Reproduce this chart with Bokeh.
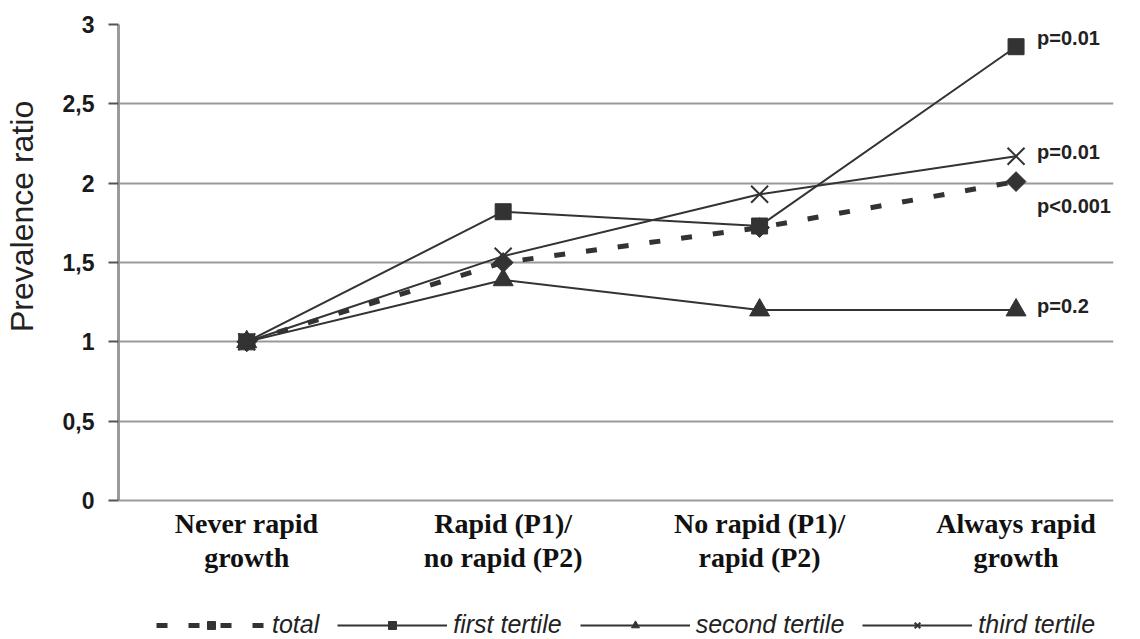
import math
from bokeh.plotting import figure
from bokeh.models import Legend, LegendItem, FixedTicker, Range1d
from bokeh.core.properties import value
from bokeh.embed import file_html
from bokeh.resources import INLINE

# ---- data ----
categories = ["Never rapid\ngrowth", "Rapid (P1)/\nno rapid (P2)",
              "No rapid (P1)/\nrapid (P2)", "Always rapid\ngrowth"]
x_pos = [0, 1, 2, 3]
total = [1.0, 1.50, 1.72, 2.01]
first_tertile = [1.0, 1.82, 1.73, 2.86]
second_tertile = [1.0, 1.39, 1.20, 1.20]
third_tertile = [1.0, 1.54, 1.93, 2.17]
series_names = ["total", "first tertile", "second tertile", "third tertile"]
p_values = ["p<0.001", "p=0.01", "p=0.2", "p=0.01"]
y_ticks = [0, 0.5, 1, 1.5, 2, 2.5, 3]
y_tick_labels = ["0", "0,5", "1", "1,5", "2", "2,5", "3"]

INK = "#333333"

# The frame reaches the bottom of the page so that the category names and the
# legend (drawn beneath the value 0) lie inside it.
p = figure(frame_width=995, frame_height=615, x_range=Range1d(-0.5, 3.38),
           y_range=Range1d(-0.876, 3),
           output_backend="svg", toolbar_location=None,
           min_border_left=118, min_border_right=27, min_border_top=24, min_border_bottom=0,
           outline_line_color=None, background_fill_color="white", border_fill_color="white")

# grid
p.xgrid.grid_line_color = None
p.ygrid.ticker = FixedTicker(ticks=y_ticks)
p.ygrid.grid_line_color = "#9a9a9a"
p.ygrid.grid_line_width = 2

# y axis
p.yaxis.ticker = FixedTicker(ticks=y_ticks)
p.yaxis.bounds = (y_ticks[0], y_ticks[-1])
p.yaxis.major_label_overrides = {t: l for t, l in zip(y_ticks, y_tick_labels)}
p.yaxis.axis_label = "\u00a0" * 26 + "Prevalence ratio"
p.yaxis.axis_label_text_font = "Liberation Sans"
p.yaxis.axis_label_text_font_size = "32px"
p.yaxis.axis_label_text_font_style = "normal"
p.yaxis.axis_label_text_color = "#222222"
p.yaxis.axis_label_standoff = 20
p.yaxis.major_label_text_font = "Liberation Sans"
p.yaxis.major_label_text_font_style = "bold"
p.yaxis.major_label_text_font_size = "23px"
p.yaxis.major_label_text_color = "#1a1a1a"
p.yaxis.major_label_standoff = 14
p.yaxis.axis_line_color = "#9a9a9a"
p.yaxis.axis_line_width = 3
p.yaxis.major_tick_out = 10
p.yaxis.major_tick_in = 0
p.yaxis.major_tick_line_color = "#555555"
p.yaxis.major_tick_line_width = 2
p.yaxis.minor_tick_line_color = None

p.xaxis.visible = False

# category names, two lines each, under the value 0
line1 = [c.split("\n")[0] for c in categories]
line2 = [c.split("\n")[1] for c in categories]
base_y = [y_ticks[0]] * len(x_pos)
for lines, off in ((line1, 23), (line2, 57)):
    p.text(x=x_pos, y=base_y, text=lines, y_offset=off,
           text_align="center", text_baseline="middle",
           text_font=value("Liberation Serif"), text_font_style="bold",
           text_font_size="28px", text_color="#111111")

# series
l0 = p.line(x_pos, total, line_color=INK, line_width=5, line_dash="11 21")
m0 = p.scatter(x_pos, total, marker="square", angle=math.pi / 4, size=14,
               fill_color=INK, line_color=INK)
l1 = p.line(x_pos, first_tertile, line_color=INK, line_width=2)
m1 = p.scatter(x_pos, first_tertile, marker="square", size=16, fill_color=INK, line_color=INK)
l2 = p.line(x_pos, second_tertile, line_color=INK, line_width=2)
m2 = p.scatter(x_pos, second_tertile, marker="triangle", size=20, fill_color=INK, line_color=INK)
l3 = p.line(x_pos, third_tertile, line_color=INK, line_width=2)
m3 = p.scatter(x_pos, third_tertile, marker="x", size=24, line_color=INK, line_width=2)

# p-value annotations
last = len(x_pos) - 1
ends = [total[last], first_tertile[last], second_tertile[last], third_tertile[last]]
offsets = [24, -9, -4, -4]
for yv, txt, off in zip(ends, p_values, offsets):
    p.text(x=[x_pos[last]], y=[yv], text=[txt], x_offset=21, y_offset=off,
           text_baseline="middle", text_align="left",
           text_font=value("Liberation Sans"), text_font_style="bold",
           text_font_size="20px", text_color="#222222")

legend = Legend(items=[
    LegendItem(label=series_names[0], renderers=[l0, m0]),
    LegendItem(label=series_names[1], renderers=[l1, m1]),
    LegendItem(label=series_names[2], renderers=[l2, m2]),
    LegendItem(label=series_names[3], renderers=[l3, m3]),
], orientation="horizontal", location=(38, 0))
legend.glyph_width = 110
legend.glyph_height = 20
legend.label_standoff = 6
legend.spacing = 18
legend.label_text_font = "Liberation Sans"
legend.label_text_font_style = "italic"
legend.label_text_font_size = "25px"
legend.label_text_color = "#222222"
legend.border_line_color = None
legend.background_fill_alpha = 0
legend.padding = 2
legend.margin = 0
p.add_layout(legend, "center")

open("out.html", "w").write(file_html(p, INLINE))
